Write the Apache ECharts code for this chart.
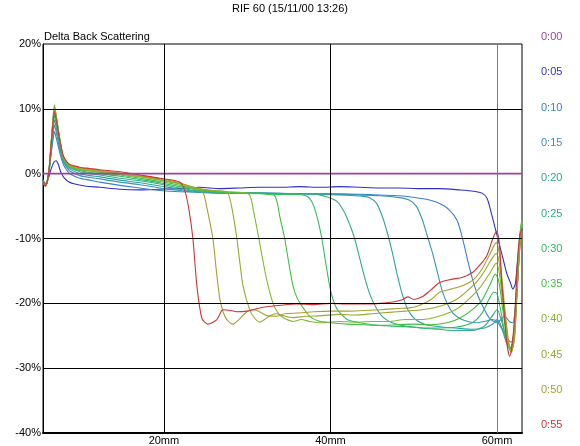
<!DOCTYPE html>
<html><head><meta charset="utf-8">
<script src="https://cdn.jsdelivr.net/npm/echarts@6/dist/echarts.min.js"></script>
<style>html,body{margin:0;padding:0;background:#fff}#c{width:580px;height:446px}</style>
</head><body><div id="c"></div>
<script>
const titleText = "RIF 60 (15/11/00 13:26)";
const yTitle = "Delta Back Scattering";
const xTicks = [20, 40, 60];
const yGrid = [-30, -20, -10, 10];
const seriesNames = ["0:00","0:05","0:10","0:15","0:20","0:25","0:30","0:35","0:40","0:45","0:50","0:55"];
const seriesColors = ["#a040a0","#3030c8","#3a80d0","#3a92b8","#30a0a0","#30ac88","#30bc66","#40c040","#84b830","#98a830","#a8a030","#d03434"];

const s0000 = [[5.48,0],[63,0]];
const s0005 = [[5.48,-0.8],[5.72,-1.5],[6.0,-1.2],[6.4,0.5],[6.8,1.8],[7.05,2.0],[7.3,1.5],[7.6,0.3],[8.0,-0.6],[8.5,-1.2],[9.3,-1.6],[10.5,-1.9],[12.3,-2.1],[14.7,-2.4],[17.1,-2.5],[19.5,-2.4],[21.9,-2.3],[24.3,-2.1],[26.7,-2.3],[29.1,-2.2],[31.5,-2.1],[33.9,-2.1],[36.3,-2.0],[38.7,-2.1],[41.1,-2.0],[43.5,-2.1],[45.9,-2.2],[48.3,-2.2],[50.7,-2.3],[53.1,-2.3],[55.5,-2.5],[57.2,-2.7],[58.2,-3.0],[58.8,-3.8],[59.3,-6],[59.7,-8],[60.2,-10.5],[60.7,-13],[61.2,-15.5],[61.6,-16.8],[61.9,-17.8],[62.2,-17],[62.5,-13],[62.8,-9.7],[63,-8.5]];
const s0010 = [[5.48,-1.0],[5.72,-1.7],[5.96,-1.3],[6.2,0.2],[6.44,2.8],[6.68,5.2],[6.85,6.5],[7.05,5.6],[7.3,4.3],[7.52,3.1],[7.9,1.5],[8.3,0.6],[8.7,0.0],[9.9,-0.7],[11.1,-1.0],[12.3,-1.3],[14.7,-1.8],[17.1,-2.2],[19.5,-2.6],[21.9,-2.8],[26.7,-2.9],[31.5,-3.0],[36.3,-3.1],[41.1,-3.1],[45.9,-3.3],[48.3,-3.4],[50.7,-3.8],[52.0,-4.1],[53.1,-4.6],[54.2,-5.5],[55.2,-7.2],[55.9,-10.2],[56.5,-13.5],[57.1,-16.5],[57.7,-18.8],[58.3,-20.5],[59.1,-22.3],[60.0,-23],[60.9,-22],[61.5,-22.8],[61.9,-23],[62.3,-19],[62.6,-13],[62.85,-9],[63,-8]];
const s0015 = [[5.48,-1.1],[5.72,-1.8],[5.96,-1.3],[6.2,0.3],[6.44,3.2],[6.68,6.0],[6.85,7.5],[7.05,6.5],[7.3,5.0],[7.52,3.6],[7.9,1.9],[8.3,1.0],[8.7,0.4],[9.9,-0.3],[11.1,-0.6],[12.3,-0.8],[14.7,-1.3],[17.1,-1.7],[19.5,-2.2],[21.9,-2.6],[24.3,-2.9],[26.7,-3.0],[31.5,-3.0],[36.3,-3.1],[41.1,-3.2],[45.9,-3.4],[48.3,-3.7],[49.5,-4.1],[50.3,-5],[51.0,-7],[51.6,-9.5],[52.2,-12],[52.8,-15],[53.4,-18],[54.0,-20],[54.7,-21.5],[55.5,-22.3],[56.5,-22.8],[57.5,-23],[58.5,-22.8],[59.4,-22.5],[60.0,-22.8],[60.6,-24],[61.2,-25.5],[61.7,-26],[62.1,-24],[62.5,-16],[62.8,-10],[63,-8.5]];
const s0020 = [[5.48,-1.1],[5.72,-1.8],[5.96,-1.3],[6.2,0.4],[6.44,3.5],[6.68,6.6],[6.85,8.3],[7.05,7.2],[7.3,5.5],[7.52,4.0],[7.9,2.1],[8.3,1.2],[8.7,0.7],[9.9,0.0],[11.1,-0.3],[12.3,-0.5],[14.7,-1.0],[17.1,-1.4],[19.5,-1.9],[21.9,-2.4],[24.3,-2.8],[26.7,-3.0],[31.5,-3.0],[36.3,-3.1],[41.1,-3.3],[44.0,-3.5],[44.7,-3.7],[45.5,-4.5],[46.2,-6.5],[46.8,-9],[47.4,-12],[48.0,-15.5],[48.6,-18.5],[49.3,-21],[50.2,-22.5],[51.5,-23.3],[53.1,-23.6],[55,-23.8],[57,-24],[58.5,-23.8],[59.5,-23.2],[60.0,-22.5],[60.5,-23.5],[61.1,-26],[61.6,-27],[62.0,-25],[62.4,-18],[62.8,-10],[63,-8]];
const s0025 = [[5.48,-1.1],[5.72,-1.8],[5.96,-1.3],[6.2,0.4],[6.44,3.8],[6.68,7.2],[6.85,9.0],[7.05,7.8],[7.3,6.0],[7.52,4.4],[7.9,2.3],[8.3,1.4],[8.7,0.9],[9.9,0.3],[11.1,0.0],[12.3,-0.2],[14.7,-0.7],[17.1,-1.1],[19.5,-1.6],[21.9,-2.2],[24.3,-2.7],[26.7,-2.9],[29.1,-3.0],[31.5,-3.0],[33.9,-3.1],[36.3,-3.1],[38.4,-3.2],[39.6,-3.6],[40.8,-4.3],[41.6,-5.8],[42.3,-7.8],[42.9,-10],[43.5,-13],[44.1,-16],[44.7,-18.5],[45.4,-20.5],[46.2,-22],[47.4,-23],[49,-23.5],[51,-23.8],[53,-24],[55,-24.2],[57,-24.2],[58.5,-23.5],[59.4,-22],[60.0,-21],[60.5,-22.5],[61.1,-25.5],[61.6,-27],[62.0,-25.5],[62.4,-18],[62.8,-9],[63,-7.5]];
const s0030 = [[5.48,-1.2],[5.72,-1.9],[5.96,-1.4],[6.2,0.5],[6.44,4.2],[6.68,7.9],[6.85,9.8],[7.05,8.5],[7.3,6.5],[7.52,4.8],[7.9,2.5],[8.3,1.5],[8.7,1.0],[9.9,0.5],[11.1,0.2],[12.3,0.0],[14.7,-0.4],[17.1,-0.9],[19.5,-1.4],[21.9,-2.0],[24.3,-2.6],[26.7,-2.9],[29.1,-3.0],[31.5,-3.1],[33.9,-3.2],[36.3,-3.2],[37.0,-3.4],[37.5,-3.8],[38.0,-5],[38.5,-7.2],[38.96,-10],[39.4,-13.5],[39.9,-17.3],[40.3,-19.4],[40.8,-20.9],[41.4,-21.8],[42,-22.5],[43.5,-23],[45,-23.3],[47,-23.5],[49,-23.6],[51,-23.8],[53,-23.8],[55,-23.7],[57,-23],[58.2,-21.5],[59.0,-19.5],[59.6,-18.3],[60.0,-18.5],[60.5,-21.5],[61.0,-25],[61.5,-27],[61.9,-26],[62.3,-19],[62.7,-10],[63,-7]];
const s0035 = [[5.48,-1.2],[5.72,-1.9],[5.96,-1.4],[6.2,0.5],[6.44,4.5],[6.68,8.5],[6.85,10.6],[7.05,9.2],[7.3,7.0],[7.52,5.2],[7.9,2.6],[8.3,1.6],[8.7,1.1],[9.9,0.6],[11.1,0.4],[12.3,0.2],[14.7,-0.2],[17.1,-0.7],[19.5,-1.2],[21.9,-1.8],[24.3,-2.5],[26.7,-2.8],[29.1,-3.0],[31.5,-3.0],[32.5,-3.2],[33.2,-3.3],[33.56,-4.2],[33.9,-6.5],[34.5,-10],[35.0,-13.8],[35.5,-17.3],[36.0,-19.2],[36.56,-20.4],[37.5,-22],[38.5,-22.7],[40,-23],[42,-23.2],[44,-23.3],[46,-23.4],[48,-23.3],[50,-23.2],[52,-23.3],[54,-23],[55.5,-22.3],[57,-21],[58.2,-19.5],[59.2,-17],[59.8,-15.5],[60.2,-16.5],[60.7,-21],[61.2,-25.5],[61.6,-27.2],[62.0,-25.5],[62.4,-17],[62.8,-9],[63,-7]];
const s0040 = [[5.48,-1.2],[5.72,-1.9],[5.96,-1.4],[6.2,0.5],[6.44,4.4],[6.68,8.3],[6.85,10.3],[7.05,9.0],[7.3,6.9],[7.52,5.1],[7.9,2.6],[8.3,1.7],[8.7,1.2],[9.9,0.7],[11.1,0.5],[12.3,0.3],[14.7,-0.1],[17.1,-0.5],[19.5,-1.0],[21.9,-1.6],[24.3,-2.4],[26.7,-2.7],[28,-2.8],[29.5,-2.9],[30.3,-3.3],[30.8,-6],[31.4,-10],[31.9,-13.5],[32.4,-16.7],[33.1,-20],[33.7,-21.5],[34.3,-22.2],[35.5,-22.8],[36.5,-22.5],[37.5,-22.8],[39,-23],[41,-22.8],[43,-22.9],[45,-22.8],[47,-22.8],[49,-22.5],[51,-22.5],[53,-22],[55,-21],[56.5,-19.5],[58,-17.5],[59.2,-15.2],[59.9,-13.8],[60.3,-15.5],[60.8,-21],[61.3,-26],[61.7,-27.5],[62.1,-25],[62.5,-16],[62.85,-9],[63,-7.5]];
const s0045 = [[5.48,-1.2],[5.72,-1.9],[5.96,-1.4],[6.2,0.5],[6.44,4.3],[6.68,8.1],[6.85,10.0],[7.05,8.8],[7.3,6.8],[7.52,5.0],[7.9,2.6],[8.3,1.7],[8.7,1.2],[9.9,0.8],[11.1,0.6],[12.3,0.4],[14.7,0.0],[17.1,-0.4],[19.5,-0.9],[21.9,-1.5],[24.3,-2.3],[26,-2.6],[27.2,-2.7],[27.7,-3.0],[28.2,-5.5],[28.76,-10],[29.1,-13.5],[29.5,-17.3],[30.3,-21],[30.9,-22.3],[31.5,-22.9],[32.1,-22.5],[32.7,-21.9],[33.5,-21.6],[34.3,-21.9],[35.5,-22.2],[37,-22],[39,-21.9],[41,-21.7],[43,-21.8],[45,-21.6],[47,-21.4],[49,-21.2],[51,-21],[53,-20.5],[55,-19.5],[56.5,-18],[58,-16],[59.2,-13.5],[59.9,-12.3],[60.3,-14],[60.8,-20],[61.3,-25.5],[61.7,-27.6],[62.1,-25.5],[62.5,-16],[62.85,-9.5],[63,-8]];
const s0050 = [[5.48,-1.2],[5.72,-1.9],[5.96,-1.4],[6.2,0.5],[6.44,4.2],[6.68,7.9],[6.85,9.8],[7.05,8.6],[7.3,6.7],[7.52,5.0],[7.9,2.7],[8.3,1.8],[8.7,1.3],[9.9,0.9],[11.1,0.7],[12.3,0.5],[14.7,0.1],[17.1,-0.3],[19.5,-0.8],[21.9,-1.4],[23,-2.0],[24,-2.3],[24.68,-2.8],[25.2,-5.5],[25.88,-10],[26.3,-15],[26.7,-19.2],[27.1,-21.3],[27.56,-22.5],[28.3,-23.2],[29.0,-22.5],[29.96,-21.3],[30.6,-21],[31.16,-21.1],[32.36,-21.9],[33.5,-22],[34.5,-21.6],[36,-21.5],[38,-21.3],[40,-21.2],[42,-21.2],[44,-21.1],[46,-21],[48,-20.8],[50,-20.6],[52,-19.5],[53.1,-18.3],[54.5,-17.8],[56,-17.2],[57.2,-16.3],[58.3,-14.5],[59.3,-12],[59.9,-10.6],[60.3,-12.5],[60.8,-19],[61.3,-25],[61.7,-27.5],[62.1,-25],[62.5,-15],[62.85,-9],[63,-7.5]];
const s0055 = [[5.48,-1.2],[5.72,-1.9],[5.96,-1.4],[6.2,0.5],[6.44,4.1],[6.68,7.7],[6.85,9.6],[7.05,8.5],[7.3,6.6],[7.52,5.0],[7.9,2.8],[8.3,1.9],[8.7,1.4],[9.9,1.0],[11.1,0.8],[12.3,0.6],[14.7,0.3],[17.1,-0.2],[19.5,-0.7],[21.9,-1.3],[22.52,-2.7],[23.0,-5.5],[23.48,-10],[23.96,-17.3],[24.56,-22.3],[25.28,-23.2],[26.36,-22.5],[27.08,-21],[28.0,-21.1],[28.76,-21.3],[29.96,-21.2],[31.88,-20.6],[34,-20.3],[35.96,-20.1],[38,-20.2],[40,-20.0],[42,-20.1],[44.72,-20.1],[46,-20],[47.5,-19.8],[48.5,-19.5],[49.3,-19],[50,-19.4],[51,-19],[52,-18],[53.1,-16.8],[54.5,-16.3],[55.8,-16],[57.1,-15.2],[58,-14],[58.76,-12.7],[59.5,-10],[59.96,-8.9],[60.3,-11],[60.56,-16.7],[60.9,-22],[61.16,-26],[61.52,-28.2],[61.8,-26.5],[62.12,-22],[62.48,-13],[62.72,-9.7],[63,-8.5]];

const seriesData = [s0000,s0005,s0010,s0015,s0020,s0025,s0030,s0035,s0040,s0045,s0050,s0055];

const FONT = '"Liberation Sans", Arial, sans-serif';
const chart = echarts.init(document.getElementById('c'), null, {renderer:'canvas'});

const gridLineData = xTicks.map(v => ({xAxis: v, lineStyle: {color: v === 60 ? '#7a7a7a' : '#000', width: 1, type: 'solid'}}))
  .concat(yGrid.map(v => ({yAxis: v, lineStyle: {color: '#000', width: 1, type: 'solid'}})));

const series = seriesNames.map((n, i) => ({
  name: n, type: 'line', data: seriesData[i], showSymbol: false, symbol: 'none',
  smooth: 0.25, lineStyle: {color: seriesColors[i], width: i === 0 ? 1.6 : 1.1}, itemStyle: {color: seriesColors[i]},
  animation: false, silent: true, z: i === 0 ? 3 : 2
}));
series.push({
  name: 'grid', type: 'line', data: [], z: 1, silent: true, animation: false,
  markLine: {silent: true, symbol: 'none', label: {show: false}, animation: false, data: gridLineData}
});

chart.setOption({
  backgroundColor: '#fff',
  animation: false,
  title: [
    {text: titleText, left: 'center', top: 3, padding: 0, textStyle: {fontFamily: FONT, fontSize: 11, fontWeight: 'normal', color: '#000'}},
    {text: yTitle, left: 44, top: 31, padding: 0, textStyle: {fontFamily: FONT, fontSize: 11, fontWeight: 'normal', color: '#000'}}
  ],
  legend: {
    orient: 'vertical', left: 531, top: 25, itemGap: 22.8, itemWidth: 0, itemHeight: 14,
    icon: 'none', selectedMode: false,
    textStyle: {fontFamily: FONT, fontSize: 11},
    data: seriesNames.map((n, i) => ({name: n, icon: 'none', textStyle: {color: seriesColors[i]}}))
  },
  grid: {left: 43, right: 58, top: 44, bottom: 12, show: true, borderColor: '#000', borderWidth: 1, backgroundColor: 'transparent'},
  xAxis: {
    type: 'value', min: 5.48, max: 63,
    axisLine: {show: true, onZero: false, lineStyle: {color: '#000', width: 2}},
    axisTick: {show: false},
    splitLine: {show: false},
    axisLabel: {customValues: xTicks, formatter: '{value}mm', margin: 2, color: '#000', fontFamily: FONT, fontSize: 11}
  },
  yAxis: {
    type: 'value', min: -40, max: 20, interval: 10,
    axisLine: {show: true, onZero: false, lineStyle: {color: '#000', width: 1}},
    axisTick: {show: false},
    splitLine: {show: false},
    axisLabel: {formatter: '{value}%', margin: 2, color: '#000', fontFamily: FONT, fontSize: 11, padding: [0, 0, 6, 0]}
  },
  series: series
});
</script></body></html>
